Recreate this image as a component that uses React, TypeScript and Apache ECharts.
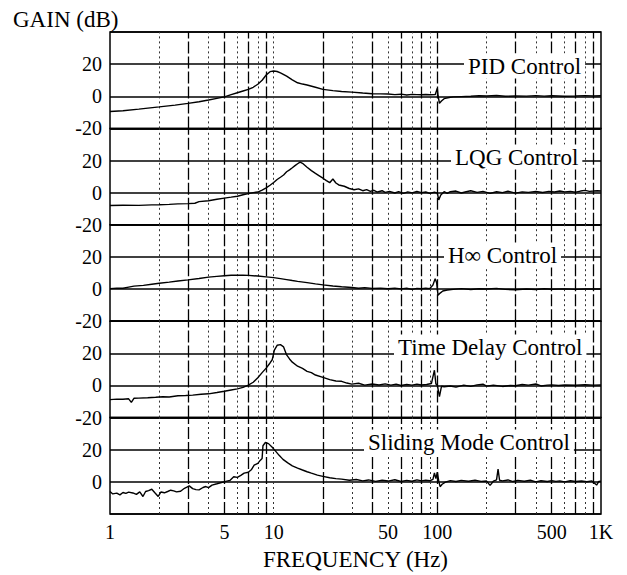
import React, { useEffect, useRef } from "react";
import * as echarts from "echarts";

// ---- data: [frequency Hz, gain dB] ----
const pidData: [number, number][] = [
  [1, -9.5], [1.2, -9.0], [1.5, -8.0], [2, -6.6], [2.5, -5.5], [3, -4.4], [3.5, -3.4], [4, -2.3],
  [4.5, -1.3], [5, -0.4], [5.5, 1.0], [6, 2.2], [6.5, 3.3], [7, 4.3], [7.5, 5.6], [8, 7.5],
  [8.5, 10.0], [9, 13.2], [9.5, 15.3], [10, 15.7], [10.5, 15.4], [11, 14.6], [12, 12.5], [13, 10.2],
  [14, 8.4], [15, 7.6], [16, 7.0], [18, 5.6], [20, 4.3], [23, 3.5], [26, 3.0], [30, 2.6], [35, 2.0],
  [40, 1.6], [45, 1.5], [50, 1.4], [55, 1.0], [60, 1.3], [65, 0.8], [70, 1.2], [75, 1.0], [80, 0.9],
  [85, 1.1], [90, 0.9], [97, 1.0], [100, 5.0], [101, 0.5], [103, -4.4], [106, -3.0], [110, -1.5],
  [118, -0.8], [125, -0.4], [140, -0.2], [160, 0.0], [180, 0.3], [200, 0.2], [230, 0.5], [260, 0.0],
  [300, 0.2], [350, 0.1], [400, 0.4], [450, 0.1], [500, 0.3], [600, 0.0], [700, 0.2], [800, 0.4],
  [900, 0.2], [1000, 0.3],
];

const lqgData: [number, number][] = [
  [1, -8.0], [1.2, -7.8], [1.5, -7.9], [1.8, -7.6], [2, -7.5], [2.3, -7.3], [2.6, -7.0], [3, -6.8],
  [3.3, -6.6], [3.5, -5.6], [4, -5.0], [4.5, -4.1], [5, -3.4], [5.5, -2.8], [6, -2.2], [6.5, -1.3],
  [7, -0.6], [7.5, 0.0], [8, 0.4], [8.5, 1.6], [9, 3.0], [9.5, 4.6], [10, 6.3], [10.5, 8.2],
  [11, 9.6], [11.5, 11.0], [12, 13.0], [12.5, 14.2], [13, 15.5], [13.5, 16.8], [14, 18.0],
  [14.5, 19.0], [15, 18.3], [16, 15.8], [17, 13.7], [18, 12.0], [19, 10.5], [20, 9.0], [21, 7.5],
  [22, 6.2], [23, 8.5], [24, 6.0], [25, 4.8], [27, 4.0], [29, 2.6], [31, 1.8], [33, 2.4], [35, 1.2],
  [37, 1.9], [39, 0.8], [41, 1.5], [43, 0.4], [46, 1.2], [48, 0.2], [51, 0.8], [55, -0.2], [58, 0.7],
  [62, -0.4], [66, 0.5], [70, -0.1], [75, 0.7], [80, 0.0], [85, 0.4], [90, -0.4], [96, 0.3],
  [100, -0.3], [102, -4.5], [105, -1.5], [110, 0.6], [115, -0.5], [120, 0.6], [130, 1.0],
  [140, -0.2], [150, 0.6], [160, 1.2], [175, 0.2], [190, 0.8], [210, -0.4], [230, 0.6], [250, 0.0],
  [270, 0.9], [300, -0.3], [330, 0.5], [360, 0.2], [400, 0.7], [440, 0.1], [480, 0.8], [520, 0.4],
  [560, 1.0], [600, 0.5], [650, 0.8], [700, 0.3], [750, 1.0], [800, 1.4], [850, 0.8], [900, 1.0],
  [950, 1.2], [1000, 1.0],
];

const hinfData: [number, number][] = [
  [1, 0.3], [1.1, 0.6], [1.2, 0.5], [1.3, 1.2], [1.4, 1.8], [1.6, 2.3], [1.8, 3.0], [2, 3.6],
  [2.3, 4.3], [2.6, 5.0], [3, 5.7], [3.5, 6.6], [4, 7.4], [4.5, 7.9], [5, 8.3], [5.5, 8.6], [6, 8.7],
  [6.5, 8.6], [7, 8.5], [8, 8.1], [9, 7.6], [10, 7.1], [11, 6.5], [12, 5.9], [13, 5.3], [14, 4.8],
  [16, 4.0], [18, 3.2], [20, 2.6], [23, 1.9], [26, 1.4], [30, 1.0], [33, 0.5], [36, 0.9], [40, 0.4],
  [45, 0.6], [50, 0.2], [55, 0.6], [60, 0.1], [65, 0.5], [70, -0.2], [75, 0.4], [80, 0.2], [85, 0.5],
  [90, 0.3], [94, 2.5], [97, 6.5], [99, 4.0], [101, -3.8], [104, -2.5], [108, -1.2], [115, -0.6],
  [125, -0.2], [140, 0.3], [160, -0.3], [180, 0.2], [200, 0.0], [230, 0.4], [260, -0.2], [300, -0.4],
  [350, 0.0], [400, -0.3], [450, 0.2], [500, -0.1], [600, 0.1], [700, -0.2], [800, 0.0], [900, 0.1],
  [1000, 0.0],
];

const timeDelayData: [number, number][] = [
  [1, -8.8], [1.1, -8.5], [1.2, -8.6], [1.3, -8.3], [1.35, -10.5], [1.4, -8.0], [1.5, -7.9],
  [1.7, -7.6], [1.9, -7.3], [2.1, -7.0], [2.3, -7.2], [2.6, -6.4], [2.9, -6.2], [3.2, -6.0],
  [3.6, -5.5], [4, -5.2], [4.5, -4.4], [5, -3.6], [5.5, -2.8], [6, -2.1], [6.5, -1.2], [7, 0.2],
  [7.5, 2.0], [8, 4.8], [8.5, 8.0], [9, 10.8], [9.5, 14.0], [9.8, 16.0], [10.1, 22.0], [10.5, 25.0],
  [11, 25.4], [11.5, 24.0], [12, 19.0], [12.5, 16.5], [13, 14.5], [14, 12.0], [15, 10.6], [16, 8.8],
  [17, 8.0], [18, 6.5], [20, 5.0], [22, 3.6], [24, 2.8], [26, 2.6], [28, 1.5], [30, 0.8], [33, 1.4],
  [36, 0.2], [40, 0.9], [44, 0.3], [48, 1.0], [52, 0.2], [56, 0.8], [60, 0.0], [65, 0.6], [70, 0.2],
  [75, 0.8], [80, 0.3], [86, 0.6], [92, 1.2], [96, 9.5], [98, 1.0], [100, 0.2], [103, -7.0],
  [106, -0.5], [110, -0.8], [120, -0.3], [130, -1.0], [145, 0.2], [160, -0.6], [175, 0.4], [190, 0.8],
  [200, -0.4], [220, 0.2], [250, -0.6], [280, 0.0], [300, -0.2], [330, 0.6], [360, 0.2], [400, 0.9],
  [430, -0.3], [470, 0.2], [500, 0.4], [550, 0.0], [600, 0.3], [700, 0.1], [800, 0.4], [900, 0.2],
  [1000, 0.3],
];

const slidingData: [number, number][] = [
  [1, -6.0], [1.04, -7.5], [1.1, -7.0], [1.15, -8.1], [1.2, -6.6], [1.25, -7.2], [1.3, -6.4],
  [1.38, -6.9], [1.45, -7.8], [1.52, -6.2], [1.59, -9.1], [1.65, -6.0], [1.72, -5.4], [1.8, -4.6],
  [1.88, -6.8], [1.97, -9.1], [2.05, -6.3], [2.15, -6.8], [2.25, -6.0], [2.35, -5.2], [2.45, -5.6],
  [2.55, -6.2], [2.7, -5.8], [2.85, -4.0], [2.95, -3.3], [3.05, -2.5], [3.2, -4.2], [3.35, -4.8],
  [3.5, -5.0], [3.7, -3.5], [3.85, -2.9], [4.0, -3.6], [4.2, -2.0], [4.5, -1.2], [4.8, -0.4],
  [5.1, 0.3], [5.4, 0.9], [5.7, 3.2], [6.0, 2.8], [6.3, 4.0], [6.6, 5.4], [7.0, 6.0], [7.3, 7.5],
  [7.6, 10.4], [8.0, 11.5], [8.3, 13.5], [8.5, 14.5], [8.6, 22.5], [8.9, 24.5], [9.3, 23.8],
  [9.8, 21.5], [10.3, 19.0], [10.8, 16.5], [11.4, 14.0], [12.2, 11.8], [13, 10.0], [14, 8.6],
  [15, 7.4], [16, 6.3], [17, 5.4], [18.5, 4.2], [20, 3.4], [22, 2.6], [24, 2.0], [26, 1.7], [29, 1.0],
  [32, 1.5], [35, 0.6], [38, 1.2], [42, 0.3], [46, 1.0], [50, 0.5], [55, 1.3], [60, 0.2], [65, 0.9],
  [70, 0.4], [75, 1.2], [80, 0.6], [85, 1.0], [90, 0.7], [94, 1.5], [96, 5.5], [98, 2.0], [100, 6.0],
  [102, 0.5], [104, -3.0], [107, -1.5], [112, -0.2], [120, 0.8], [130, 0.2], [140, 0.9], [155, 0.4],
  [170, 1.0], [185, 0.3], [200, 0.5], [210, -2.2], [220, 0.4], [230, 1.2], [235, 8.0], [240, 1.0],
  [250, 0.6], [270, 1.2], [290, 0.2], [310, 0.9], [340, 0.4], [370, 1.0], [400, 0.0], [430, 0.7],
  [470, 0.2], [500, 0.8], [530, 0.3], [560, 0.6], [600, 0.0], [650, 0.7], [700, 0.2], [760, 0.5],
  [820, 0.1], [880, 0.6], [940, -2.0], [970, 0.3], [1000, 0.4],
];

const panelNames = ["PID Control", "LQG Control", "H\u221e Control", "Time Delay Control", "Sliding Mode Control"];
const panelSeries = [pidData, lqgData, hinfData, timeDelayData, slidingData];

// axis ticks
const xTickLabels = [1, 5, 10, 50, 100, 500, 1000];
const yTicks = [-20, 0, 20, 40];
const solidGridFreqs = [3, 5, 7, 9, 20, 40, 60, 80, 100, 300, 500, 700, 900];
const dottedGridFreqs = [2, 4, 6, 8, 10, 30, 50, 70, 90, 200, 400, 600, 800];

// layout
const FONT = '"Liberation Serif", "Times New Roman", serif';
const GRID_LEFT = 110;
const GRID_WIDTH = 491;
const GRID_TOP = 32;
const PANEL_H = 96.4;
const labelPos = [
  [464, 66],
  [451, 157],
  [444, 255],
  [394, 347],
  [364, 442],
];

export default function App() {
  const ref = useRef<HTMLDivElement>(null);
  useEffect(() => {
    if (!ref.current) return;
    const chart = echarts.init(ref.current, undefined, { renderer: "svg" });
    const n = panelSeries.length;
    const grids = [];
    const xAxes = [];
    const yAxes = [];
    const series = [];
    for (let k = 0; k < n; k++) {
      const isLast = k === n - 1;
      grids.push({
        left: GRID_LEFT,
        width: GRID_WIDTH,
        top: GRID_TOP + k * PANEL_H,
        height: PANEL_H,
        show: true,
        borderColor: "#000",
        borderWidth: 1.5,
        backgroundColor: "transparent",
      });
      xAxes.push({
        type: "log",
        logBase: 10,
        min: 1,
        max: 1000,
        gridIndex: k,
        axisLine: { show: false },
        axisTick: { show: false },
        splitLine: { show: false },
        axisLabel: isLast
          ? {
              show: true,
              customValues: xTickLabels,
              formatter: (v: number) => (v === 1000 ? "1K" : String(v)),
              color: "#000",
              fontFamily: FONT,
              fontSize: 20,
              margin: 8,
            }
          : { show: false },
        name: isLast ? "FREQUENCY (Hz)" : "",
        nameLocation: "middle",
        nameGap: 34,
        nameTextStyle: { color: "#000", fontFamily: FONT, fontSize: 23 },
      });
      yAxes.push({
        type: "value",
        min: yTicks[0],
        max: yTicks[yTicks.length - 1],
        interval: 20,
        gridIndex: k,
        axisLine: { show: false },
        axisTick: { show: false },
        splitLine: { show: true, lineStyle: { color: "#000", width: 1.5 } },
        axisLabel: {
          color: "#000",
          fontFamily: FONT,
          fontSize: 20,
          margin: 8,
          formatter: (v: number) => (v === 40 || (isLast && v === -20) ? "" : String(v)),
        },
      });
      const vLines = [
        ...solidGridFreqs.map((f) => ({ xAxis: f, lineStyle: { color: "#000", width: 1.3, type: [12, 3] } })),
        ...dottedGridFreqs.map((f) => ({ xAxis: f, lineStyle: { color: "#333", width: 1, type: [2, 3] } })),
      ];
      series.push({
        type: "line",
        xAxisIndex: k,
        yAxisIndex: k,
        data: panelSeries[k],
        showSymbol: false,
        symbol: "none",
        lineStyle: { color: "#000", width: 1.4 },
        z: 5,
        markLine: {
          silent: true,
          symbol: ["none", "none"],
          label: { show: false },
          animation: false,
          data: vLines,
        },
      });
    }
    const graphics = panelNames.map((name, i) => ({
      type: "text",
      x: labelPos[i][0],
      y: labelPos[i][1],
      z: 100,
      style: {
        text: name,
        font: `23px ${FONT}`,
        fill: "#000",
        align: "left",
        verticalAlign: "middle",
        backgroundColor: "#fff",
        padding: [1, 4, 1, 4],
      },
    }));
    chart.setOption({
      animation: false,
      backgroundColor: "#fff",
      title: {
        text: "GAIN (dB)",
        left: 13,
        top: 8,
        padding: 0,
        textStyle: { color: "#000", fontFamily: FONT, fontSize: 23, fontWeight: "normal" },
      },
      grid: grids,
      xAxis: xAxes,
      yAxis: yAxes,
      series,
      graphic: graphics,
    });
    return () => chart.dispose();
  }, []);
  return (
    <div
      ref={ref}
      style={{ position: "absolute", left: 0, top: 0, width: 627, height: 575, background: "#fff" }}
    />
  );
}
